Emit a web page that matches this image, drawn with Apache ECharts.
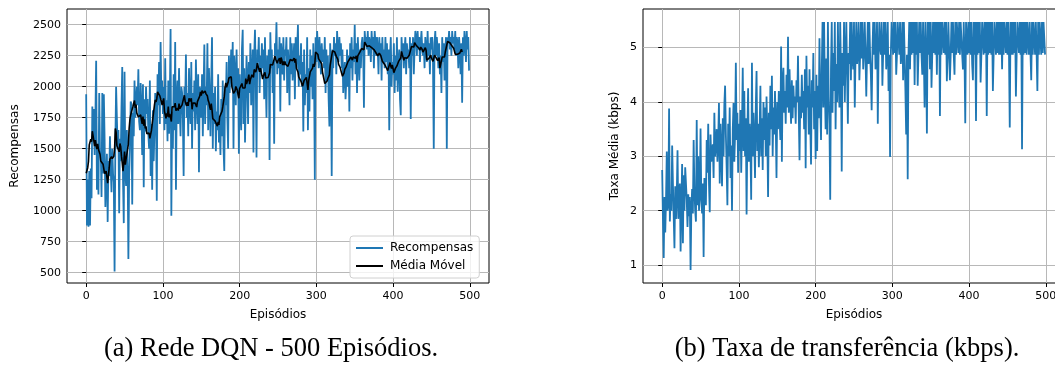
<!DOCTYPE html>
<html>
<head>
<meta charset="utf-8">
<script src="https://cdn.jsdelivr.net/npm/echarts@6/dist/echarts.min.js"></script>
<style>
  html, body { margin: 0; padding: 0; background: #fff; overflow: hidden; width: 1055px; height: 370px; }
  #chart { width: 1100px; height: 370px; }
</style>
</head>
<body>
<div id="chart"></div>
<script>
// Recompensas por episódio (0..499)
const rewards = [
  1940, 880, 1250, 870, 1320, 880, 1340, 1100, 1840, 1600,
  1820, 1450, 1750, 2210, 1170, 1490, 1130, 1950, 1460, 1480,
  1110, 1950, 1300, 1940, 1580, 1030, 1250, 1460, 910, 1400,
  1280, 1600, 1340, 1150, 1500, 1300, 1230, 510, 1540, 2000,
  1990, 1500, 1650, 980, 1580, 1400, 1830, 2160, 1250, 900,
  2120, 1330, 1200, 1650, 1350, 610, 1280, 1500, 1880, 1860,
  1050, 1790, 1600, 2050, 1750, 1880, 2000, 1850, 2140, 1720,
  1650, 2030, 1820, 1450, 2020, 1190, 1900, 1640, 2000, 1780,
  1900, 1620, 1500, 2050, 1280, 1700, 1170, 1810, 1400, 1650,
  1950, 1750, 1080, 2100, 1850, 2200, 1700, 2360, 1900, 2050,
  1780, 2000, 1650, 2230, 1700, 1890, 1560, 2050, 1620, 1900,
  2465, 960, 1800, 1500, 2100, 1650, 2360, 1170, 1900, 2050,
  1700, 2150, 1800, 1600, 2000, 1950, 1750, 1280, 2000, 1850,
  2260, 1750, 1950, 1600, 2150, 1850, 1700, 2200, 1500, 1950,
  1800, 2050, 1650, 2220, 1900, 1700, 2100, 1310, 2000, 1950,
  1750, 2100, 1600, 1950, 2340, 1700, 2000, 1850, 2350, 1650,
  2150, 1900, 1600, 2050, 2400, 1500, 1950, 1700, 2000, 1480,
  1800, 1650, 2100, 1550, 1700, 1450, 1900, 1600, 2050, 1500,
  1320, 2000, 1850, 2200, 1750, 1500, 2250, 1950, 2100, 2300,
  2050, 2360, 1500, 2250, 2100, 1850, 2300, 1950, 2150, 1460,
  2100, 1800, 1650, 2300, 2460, 1700, 2150, 1550, 1900, 2250,
  2050, 1700, 2200, 1950, 2350, 1850, 2100, 2300, 1470, 2250,
  2460, 2050, 1430, 2300, 2200, 2400, 1950, 2250, 2100, 2350,
  2150, 2300, 1900, 2400, 2050, 1750, 2250, 2100, 2300, 1410,
  2440, 2150, 2300, 1950, 2200, 1540, 2350, 2250, 2520, 2100,
  2300, 2150, 2400, 1800, 2350, 2250, 2100, 2400, 2050, 2300,
  2250, 2400, 1950, 2300, 2150, 1850, 2400, 2100, 2350, 2050,
  2200, 2350, 1900, 2400, 2150, 2300, 2500, 2000, 2250, 2100,
  2350, 2000, 2200, 1640, 2300, 1850, 2100, 1950, 2400, 1650,
  2150, 1800, 2300, 2000, 2250, 1900, 2350, 2100, 1250, 2400,
  2200, 2450, 2300, 2150, 2400, 2250, 2100, 2350, 2200, 2300,
  2150, 2400, 1950, 2300, 2050, 2250, 1900, 1680, 2350, 2100,
  1280, 2300, 2150, 2400, 2250, 2350, 2100, 2450, 2300, 2200,
  2400, 2250, 2350, 2150, 2300, 1950, 2100, 2200, 1900, 2050,
  2300, 2000, 2250, 1800, 2350, 2150, 2400, 2050, 2300, 2200,
  2500, 2100, 2350, 1950, 2400, 2250, 2050, 2300, 2150, 2350,
  2400, 2300, 1830, 2450, 2350, 2400, 2300, 2450, 2250, 2400,
  2350, 2200, 2450, 2300, 2400, 2150, 2450, 2350, 2250, 2400,
  2300, 2100, 2400, 2250, 2350, 2050, 2400, 2200, 2300, 2150,
  2400, 2200, 2350, 2100, 2300, 1650, 2250, 2400, 2000, 2200,
  2100, 2350, 1950, 2250, 2050, 2400, 1960, 2200, 2300, 1900,
  1770, 2400, 2250, 2350, 2150, 2300, 2400, 2100, 2350, 2250,
  2300, 2150, 2400, 1740, 2350, 2250, 2400, 2100, 2300, 2450,
  2400, 2250, 2450, 2300, 2400, 2200, 2350, 2450, 2300, 2250,
  2350, 2150, 2400, 2300, 2200, 2450, 2250, 2350, 2100, 2400,
  2300, 2400, 2200, 1500, 2350, 2450, 2250, 2400, 2300, 2150,
  2350, 2100, 2250, 1950, 2400, 2200, 2350, 2050, 2300, 2400,
  1500, 2400, 2350, 2450, 2300, 2400, 2250, 2450, 2350, 2400,
  2300, 2450, 2250, 2400, 2350, 2150, 2400, 2300, 2100, 2350,
  1870, 2400, 2250, 2450, 2350, 2200, 2450, 2300, 2400, 2130
];

// Taxa média (kbps) por episódio (0..499)
const rates = [
  2.75, 1.83, 1.13, 2.25, 1.6, 2.2, 3.09, 2.0, 2.1, 3.88,
  1.8, 2.3, 2.0, 3.2, 2.5, 1.9, 1.31, 2.45, 1.85, 2.3,
  3.11, 1.85, 2.2, 2.5, 1.25, 2.1, 2.86, 1.4, 2.65, 2.0,
  2.8, 2.8, 2.2, 1.7, 2.3, 1.9, 2.25, 0.91, 2.0, 2.4,
  1.95, 3.3, 2.4, 2.0, 1.8, 3.67, 2.1, 3.0, 2.0, 2.3,
  3.51, 2.2, 1.95, 2.5, 1.15, 2.6, 2.6, 2.1, 3.3, 2.7,
  3.6, 2.5, 1.97, 3.4, 2.9, 3.1, 3.22, 2.6, 3.8, 3.0,
  3.2, 3.5, 2.9, 3.3, 3.98, 2.5, 3.6, 3.1, 2.45, 3.7,
  3.0, 3.95, 4.3, 3.4, 2.8, 2.1, 3.6, 3.0, 3.9, 2.6,
  3.2, 2.0, 3.5, 3.98, 2.9, 3.4, 4.72, 3.3, 3.8, 2.7,
  3.6, 3.1, 3.85, 2.7, 3.5, 4.63, 3.1, 4.2, 3.0, 3.7,
  1.93, 3.4, 4.25, 2.9, 3.6, 3.2, 2.2, 4.72, 3.0, 3.8,
  3.3, 2.6, 3.9, 4.57, 3.1, 3.6, 2.8, 3.5, 4.3, 3.0,
  3.7, 2.75, 4.0, 3.3, 3.9, 3.0, 4.1, 3.4, 2.25, 3.8,
  3.2, 4.3, 3.5, 4.48, 3.0, 3.9, 3.4, 4.2, 3.6, 2.6,
  4.0, 3.5, 4.2, 3.7, 3.3, 5.02, 2.9, 4.4, 4.63, 3.8,
  4.2, 3.6, 4.5, 3.9, 5.2, 3.8, 4.6, 4.0, 3.6, 4.4,
  3.7, 4.3, 3.9, 4.1, 3.6, 4.4, 4.0, 4.85, 3.8, 2.93,
  4.1, 3.7, 4.5, 3.8, 4.2, 3.5, 4.6, 2.78, 4.85, 3.9,
  4.3, 3.4, 4.6, 3.6, 2.85, 4.4, 3.9, 4.9, 3.5, 4.2,
  2.95, 4.5, 3.1, 4.3, 3.7, 5.17, 4.0, 3.3, 4.6, 5.47,
  3.9, 5.47, 4.3, 3.5, 4.8, 3.4, 5.47, 4.1, 3.6, 2.2,
  4.6, 5.47, 3.8, 4.9, 4.2, 5.47, 3.5, 4.7, 4.0, 5.47,
  4.4, 3.9, 5.47, 4.6, 2.72, 4.9, 4.3, 5.47, 4.0, 4.85,
  5.47, 4.5, 3.6, 4.9, 4.7, 5.47, 4.4, 5.47, 4.8, 4.6,
  5.47, 3.9, 4.85, 5.47, 4.7, 4.9, 5.47, 4.4, 4.87, 5.47,
  4.8, 5.47, 4.6, 4.9, 5.47, 4.85, 4.1, 4.9, 5.47, 4.7,
  5.47, 4.87, 4.5, 3.85, 4.9, 5.47, 4.87, 5.47, 4.6, 4.87,
  5.47, 3.6, 4.87, 5.47, 5.0, 4.87, 5.47, 4.3, 4.9, 5.47,
  4.87, 5.47, 4.6, 4.87, 5.47, 4.2, 4.87, 2.99, 4.87, 5.47,
  5.47, 4.87, 5.47, 4.9, 5.47, 4.5, 4.87, 5.47, 5.47, 4.87,
  5.47, 4.7, 4.87, 5.47, 4.4, 5.47, 4.87, 4.2, 3.4, 4.87,
  2.58, 4.87, 5.47, 4.6, 5.47, 4.87, 5.47, 4.9, 5.47, 4.31,
  5.47, 4.87, 5.47, 4.3, 4.87, 5.47, 4.9, 5.47, 4.87, 4.5,
  5.47, 4.87, 3.9, 5.47, 4.87, 3.42, 5.47, 4.87, 5.47, 4.6,
  5.47, 4.26, 4.87, 5.47, 4.9, 5.47, 4.87, 5.47, 4.5, 5.47,
  4.87, 5.47, 3.74, 5.47, 4.87, 5.47, 5.47, 4.9, 5.47, 4.87,
  5.47, 4.38, 4.87, 5.47, 5.47, 4.4, 4.87, 5.47, 4.9, 5.47,
  4.87, 4.5, 5.47, 4.87, 5.47, 5.47, 4.9, 5.47, 4.87, 5.47,
  5.47, 4.87, 4.6, 5.47, 4.87, 3.61, 5.47, 5.47, 4.87, 5.47,
  4.9, 5.47, 4.87, 5.47, 4.7, 4.4, 5.47, 4.87, 5.47, 3.65,
  5.47, 4.87, 5.47, 4.9, 5.47, 4.36, 4.87, 5.47, 5.47, 4.87,
  5.47, 4.9, 5.47, 3.74, 5.47, 4.87, 5.47, 4.9, 5.47, 4.87,
  5.47, 4.2, 4.87, 5.47, 5.47, 4.87, 5.47, 4.9, 5.47, 4.87,
  5.47, 4.87, 5.47, 4.6, 5.47, 4.87, 5.47, 5.47, 4.9, 5.47,
  4.87, 5.47, 4.9, 3.53, 5.47, 4.87, 5.47, 4.87, 5.47, 4.9,
  5.47, 4.1, 4.87, 5.47, 5.47, 4.9, 5.47, 4.87, 5.47, 3.13,
  5.47, 4.87, 5.47, 4.9, 5.47, 4.87, 5.47, 5.47, 4.87, 5.47,
  4.9, 4.4, 5.47, 4.87, 5.47, 5.47, 4.87, 5.47, 4.9, 4.2,
  5.47, 4.87, 5.47, 5.47, 4.87, 5.47, 4.9, 5.47, 5.47, 4.87
];

const xTicks = [0, 100, 200, 300, 400, 500];
const rewardTicks = [500, 750, 1000, 1250, 1500, 1750, 2000, 2250, 2500];
const rateTicks = [1, 2, 3, 4, 5];

const MA_WINDOW = 10;

// média móvel (modo "valid")
const movingAvg = [];
for (let i = 0; i + MA_WINDOW <= rewards.length; i++) {
  let s = 0;
  for (let j = i; j < i + MA_WINDOW; j++) s += rewards[j];
  movingAvg.push([i, s / MA_WINDOW]);
}

const BLUE = '#1f77b4';
const SANS = '"DejaVu Sans", sans-serif';
const SERIF = '"Liberation Serif", "Times New Roman", serif';

const tickFont = { fontFamily: SANS, fontSize: 11, color: '#000', formatter: v => String(v) };

function xAxisFor(gridIndex) {
  return {
    type: 'value', gridIndex,
    min: -25, max: 525,
    name: 'Episódios', nameLocation: 'middle', nameGap: 26,
    nameTextStyle: { fontFamily: SANS, fontSize: 12, color: '#000' },
    axisLine: { show: false },
    axisTick: { show: true, inside: false, length: 4, customValues: xTicks, lineStyle: { color: '#000', width: 1 } },
    axisLabel: { ...tickFont, margin: 8, customValues: xTicks },
    splitLine: { show: true, lineStyle: { color: '#b8b8b8', width: 1 } }
  };
}

function yAxisFor(gridIndex, min, max, ticks, name, gap) {
  return {
    type: 'value', gridIndex, min, max,
    name, nameLocation: 'middle', nameGap: gap,
    nameTextStyle: { fontFamily: SANS, fontSize: 12, color: '#000' },
    axisLine: { show: false },
    axisTick: { show: true, inside: false, length: 4, customValues: ticks, lineStyle: { color: '#000', width: 1 } },
    axisLabel: { ...tickFont, margin: 6, customValues: ticks },
    splitLine: { show: true, lineStyle: { color: '#b8b8b8', width: 1 } }
  };
}

const chart = echarts.init(document.getElementById('chart'), null, { renderer: 'canvas' });

chart.setOption({
  animation: false,
  backgroundColor: '#fff',
  grid: [
    { left: 67, top: 9, width: 422, height: 274, show: true, borderColor: '#000', borderWidth: 1, backgroundColor: 'transparent' },
    { left: 643, top: 9, width: 422, height: 274, show: true, borderColor: '#000', borderWidth: 1, backgroundColor: 'transparent' }
  ],
  xAxis: [xAxisFor(0), xAxisFor(1)],
  yAxis: [
    yAxisFor(0, 417, 2627, rewardTicks, 'Recompensas', 46),
    yAxisFor(1, 0.67, 5.71, rateTicks, 'Taxa Média (kbps)', 22)
  ],
  legend: {
    orient: 'vertical',
    left: 350, top: 236,
    icon: 'rect',
    itemWidth: 27, itemHeight: 2, itemGap: 6,
    padding: [6, 6, 6, 6],
    borderColor: '#d0d0d0', borderWidth: 1, borderRadius: 3,
    backgroundColor: 'rgba(255,255,255,0.8)',
    textStyle: { fontFamily: SANS, fontSize: 12, color: '#000', padding: [0, 0, 0, 2] },
    data: ['Recompensas', 'Média Móvel']
  },
  series: [
    {
      name: 'Recompensas', type: 'line', xAxisIndex: 0, yAxisIndex: 0,
      data: rewards.map((v, i) => [i, v]),
      symbol: 'none', lineStyle: { color: BLUE, width: 1.8 }, itemStyle: { color: BLUE }
    },
    {
      name: 'Média Móvel', type: 'line', xAxisIndex: 0, yAxisIndex: 0,
      data: movingAvg,
      symbol: 'none', lineStyle: { color: '#000', width: 1.6 }, itemStyle: { color: '#000' }
    },
    {
      name: 'Taxa', type: 'line', xAxisIndex: 1, yAxisIndex: 1,
      data: rates.map((v, i) => [i, v]),
      symbol: 'none', lineStyle: { color: BLUE, width: 1.8 }, itemStyle: { color: BLUE }
    }
  ],
  graphic: [
    { type: 'text', x: 271, y: 349, style: { text: '(a) Rede DQN - 500 Episódios.', font: '26.5px ' + SERIF, fill: '#000', textAlign: 'center', textVerticalAlign: 'middle' } },
    { type: 'text', x: 847, y: 349, style: { text: '(b) Taxa de transferência (kbps).', font: '26.5px ' + SERIF, fill: '#000', textAlign: 'center', textVerticalAlign: 'middle' } }
  ]
});
</script>
</body>
</html>
